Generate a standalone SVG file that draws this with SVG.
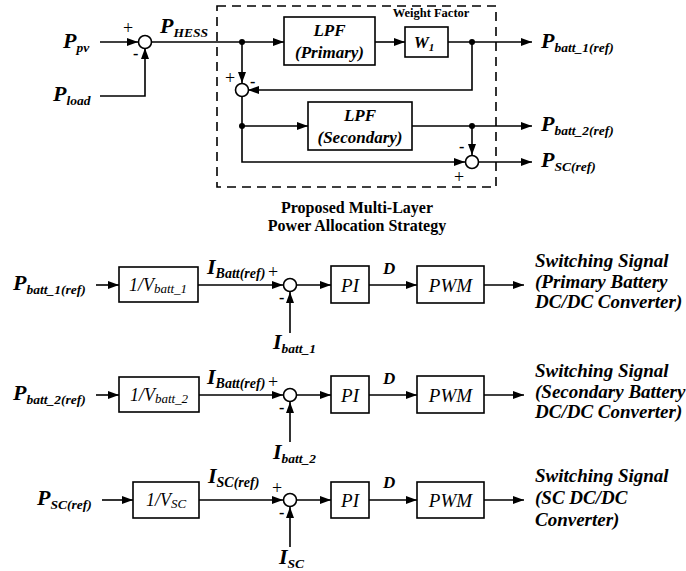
<svg xmlns="http://www.w3.org/2000/svg" width="686" height="571" viewBox="0 0 686 571">
<defs>
<marker id="ah" markerWidth="11" markerHeight="8" refX="11" refY="4" orient="auto" markerUnits="userSpaceOnUse"><path d="M0,0 L11,4 L0,8 z" fill="#000"/></marker>
<style>
.ar{fill:none;stroke:#000;stroke-width:1.6;marker-end:url(#ah)}
.bx{fill:#fff;stroke:#000;stroke-width:1.6}
.sum{fill:#fff;stroke:#000;stroke-width:1.6}
.dot{fill:#000}
text{font-family:"Liberation Serif","Times New Roman",Tinos,"DejaVu Serif",serif;fill:#000}
.bi{font-weight:bold;font-style:italic}
.it{font-style:italic}
.b{font-weight:bold}
.pl{font-size:18px}
.mn{font-size:16px;font-weight:bold}
.big{font-size:22px}
.sub{font-size:13.5px}
.lab{font-size:17px}
.sw{font-size:19px}
.blk{font-size:19px;font-style:italic}
</style>
</defs>

<g id="connectors">
<path class="ar" d="M100,42 H138"/>
<path class="ar" d="M100,96 H145 V48"/>
<path class="ar" d="M151,42 H284"/>
<path class="ar" d="M242,42 V83"/>
<path class="ar" d="M472,42 V90 H248"/>
<path class="ar" d="M242,96 V162 H465"/>
<path class="ar" d="M242,126 H308"/>
<path class="ar" d="M375,42 H405"/>
<path class="ar" d="M448,42 H532"/>
<path class="ar" d="M412,126 H532"/>
<path class="ar" d="M472,126 V155"/>
<path class="ar" d="M479,162 H532"/>

<path class="ar" d="M96,285 H119"/>
<path class="ar" d="M198,285 H283"/>
<path class="ar" d="M290,333 V292"/>
<path class="ar" d="M297,285 H331"/>
<path class="ar" d="M369,285 H417"/>
<path class="ar" d="M484,285 H524"/>

<path class="ar" d="M96,395 H119"/>
<path class="ar" d="M199,395 H283"/>
<path class="ar" d="M290,442 V402"/>
<path class="ar" d="M297,395 H331"/>
<path class="ar" d="M369,395 H417"/>
<path class="ar" d="M484,395 H524"/>

<path class="ar" d="M102,500 H133"/>
<path class="ar" d="M199,500 H283"/>
<path class="ar" d="M290,547 V507"/>
<path class="ar" d="M297,500 H331"/>
<path class="ar" d="M369,500 H417"/>
<path class="ar" d="M484,500 H524"/>
</g>

<g id="dots">
<circle class="dot" cx="242" cy="42" r="3"/>
<circle class="dot" cx="472" cy="42" r="3"/>
<circle class="dot" cx="242" cy="126" r="3"/>
<circle class="dot" cx="472" cy="126" r="3"/>
</g>

<g id="strategy-box">
<rect x="217" y="6" width="279" height="181" fill="none" stroke="#000" stroke-width="1.6" stroke-dasharray="9,6"/>
<text class="b" x="357" y="213" font-size="16" text-anchor="middle">Proposed Multi-Layer</text>
<text class="b" x="357" y="231" font-size="16" text-anchor="middle">Power Allocation Strategy</text>
</g>

<g id="in-ppv"><text class="bi big" x="63" y="48">P<tspan class="sub" dy="4">pv</tspan></text></g>
<g id="in-pload"><text class="bi big" x="53" y="101">P<tspan class="sub" dy="4">load</tspan></text></g>
<g id="sum1">
<circle class="sum" cx="145" cy="42" r="6.5"/>
<text class="pl" x="123" y="34">+</text>
<text class="mn" x="133" y="59">-</text>
</g>
<g id="lbl-phess"><text class="bi big" x="160" y="33">P<tspan class="sub" dy="4">HESS</tspan></text></g>

<g id="lpf-primary">
<rect class="bx" x="284" y="17" width="91" height="48"/>
<text class="bi lab" x="329.5" y="36" text-anchor="middle">LPF</text>
<text class="bi lab" x="329.5" y="58" text-anchor="middle">(Primary)</text>
</g>
<g id="w1">
<text class="b" x="431" y="17" font-size="12.5" text-anchor="middle">Weight Factor</text>
<rect class="bx" x="405" y="27" width="43" height="30"/>
<text class="bi" x="424" y="48" font-size="17" text-anchor="middle">W<tspan font-size="11" dy="3">1</tspan></text>
</g>
<g id="sum2">
<circle class="sum" cx="242" cy="90" r="6.5"/>
<text class="pl" x="225" y="84">+</text>
<text class="mn" x="250" y="87">-</text>
</g>
<g id="lpf-secondary">
<rect class="bx" x="308" y="102" width="104" height="48"/>
<text class="bi lab" x="360" y="121" text-anchor="middle">LPF</text>
<text class="bi lab" x="360" y="143" text-anchor="middle">(Secondary)</text>
</g>
<g id="sum3">
<circle class="sum" cx="472" cy="162" r="6.5"/>
<text class="mn" x="459" y="152">-</text>
<text class="pl" x="454" y="183">+</text>
</g>
<g id="out-pbatt1"><text class="bi big" x="541" y="48">P<tspan class="sub" dy="4">batt_1(ref)</tspan></text></g>
<g id="out-pbatt2"><text class="bi big" x="541" y="131">P<tspan class="sub" dy="4">batt_2(ref)</tspan></text></g>
<g id="out-psc"><text class="bi big" x="541" y="167">P<tspan class="sub" dy="4">SC(ref)</tspan></text></g>

<g id="r1-in"><text class="bi big" x="13" y="290">P<tspan class="sub" dy="4">batt_1(ref)</tspan></text></g>
<g id="r1-gain">
<rect class="bx" x="119" y="267" width="79" height="35"/>
<text class="it" x="158" y="291" font-size="18" text-anchor="middle">1/V<tspan font-size="13" dy="2">batt_1</tspan></text>
</g>
<g id="r1-iref"><text class="bi big" x="207" y="274">I<tspan font-size="14" dy="4">Batt(ref)</tspan></text></g>
<g id="r1-sum">
<circle class="sum" cx="290" cy="285" r="6.5"/>
<text class="pl" x="268" y="278">+</text>
<text class="mn" x="279" y="303">-</text>
</g>
<g id="r1-meas"><text class="bi big" x="273" y="349">I<tspan class="sub" dy="4">batt_1</tspan></text></g>
<g id="r1-pi"><rect class="bx" x="331" y="266" width="38" height="37"/><text class="blk" x="350" y="292" text-anchor="middle">PI</text></g>
<g id="r1-d"><text class="bi" x="383" y="274" font-size="17">D</text></g>
<g id="r1-pwm"><rect class="bx" x="417" y="266" width="67" height="37"/><text class="blk" x="450.5" y="292" text-anchor="middle">PWM</text></g>
<g id="r1-out"><text class="bi sw" x="535" y="267">Switching Signal<tspan x="535" dy="20.5">(Primary Battery</tspan><tspan x="535" dy="20.5">DC/DC Converter)</tspan></text></g>

<g id="r2-in"><text class="bi big" x="13" y="400">P<tspan class="sub" dy="4">batt_2(ref)</tspan></text></g>
<g id="r2-gain">
<rect class="bx" x="119" y="377" width="80" height="35"/>
<text class="it" x="159" y="401" font-size="18" text-anchor="middle">1/V<tspan font-size="13" dy="2">batt_2</tspan></text>
</g>
<g id="r2-iref"><text class="bi big" x="207" y="384">I<tspan font-size="14" dy="4">Batt(ref)</tspan></text></g>
<g id="r2-sum">
<circle class="sum" cx="290" cy="395" r="6.5"/>
<text class="pl" x="268" y="388">+</text>
<text class="mn" x="279" y="413">-</text>
</g>
<g id="r2-meas"><text class="bi big" x="273" y="459">I<tspan class="sub" dy="4">batt_2</tspan></text></g>
<g id="r2-pi"><rect class="bx" x="331" y="376" width="38" height="37"/><text class="blk" x="350" y="402" text-anchor="middle">PI</text></g>
<g id="r2-d"><text class="bi" x="383" y="384" font-size="17">D</text></g>
<g id="r2-pwm"><rect class="bx" x="417" y="376" width="67" height="37"/><text class="blk" x="450.5" y="402" text-anchor="middle">PWM</text></g>
<g id="r2-out"><text class="bi sw" x="535" y="377">Switching Signal<tspan x="535" dy="20.5">(Secondary Battery</tspan><tspan x="535" dy="20.5">DC/DC Converter)</tspan></text></g>

<g id="r3-in"><text class="bi big" x="37" y="505">P<tspan class="sub" dy="4">SC(ref)</tspan></text></g>
<g id="r3-gain">
<rect class="bx" x="133" y="482" width="66" height="36"/>
<text class="it" x="166" y="506" font-size="18" text-anchor="middle">1/V<tspan font-size="13" dy="2">SC</tspan></text>
</g>
<g id="r3-iref"><text class="bi big" x="208" y="483">I<tspan font-size="14" dy="4">SC(ref)</tspan></text></g>
<g id="r3-sum">
<circle class="sum" cx="290" cy="500" r="6.5"/>
<text class="pl" x="272" y="494">+</text>
<text class="mn" x="279" y="518">-</text>
</g>
<g id="r3-meas"><text class="bi big" x="279" y="564">I<tspan class="sub" dy="4">SC</tspan></text></g>
<g id="r3-pi"><rect class="bx" x="331" y="482" width="38" height="36"/><text class="blk" x="350" y="507" text-anchor="middle">PI</text></g>
<g id="r3-d"><text class="bi" x="383" y="488" font-size="17">D</text></g>
<g id="r3-pwm"><rect class="bx" x="417" y="482" width="67" height="36"/><text class="blk" x="450.5" y="507" text-anchor="middle">PWM</text></g>
<g id="r3-out"><text class="bi sw" x="535" y="482">Switching Signal<tspan x="535" dy="22">(SC DC/DC</tspan><tspan x="535" dy="22">Converter)</tspan></text></g>
</svg>
